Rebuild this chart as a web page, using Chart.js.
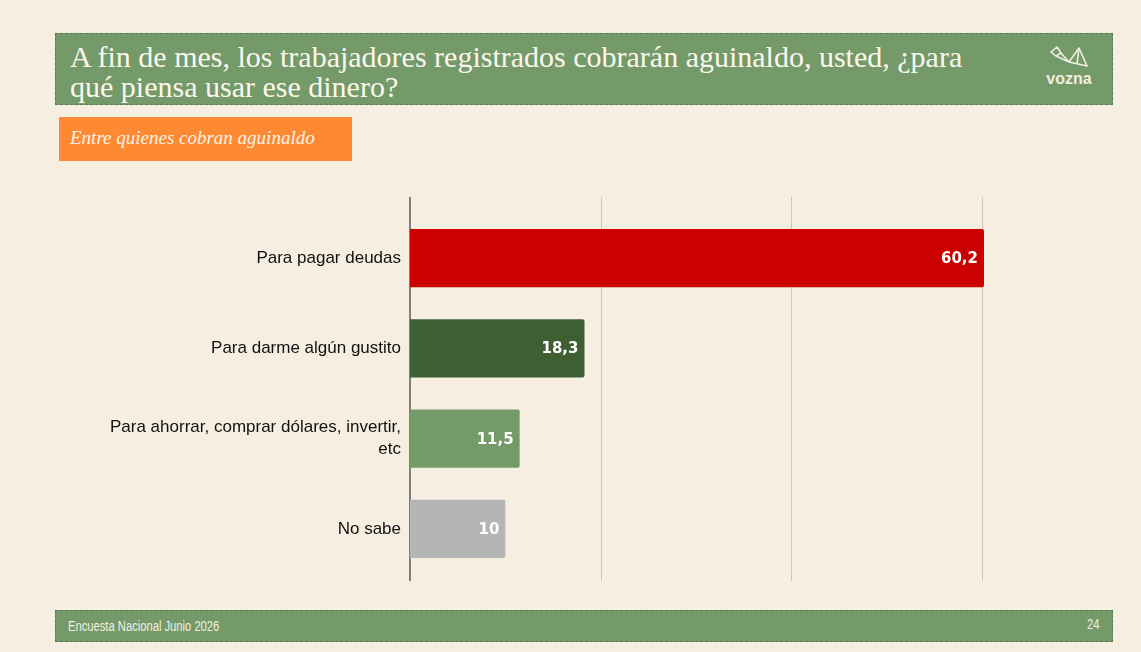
<!DOCTYPE html>
<html lang="es">
<head>
  <meta charset="UTF-8">
  <title>Aguinaldo - uso del dinero</title>
  <script src="https://cdn.jsdelivr.net/npm/chart.js"></script>
  <style>
    body {
      margin: 0;
      width: 1141px;
      height: 652px;
      background: #f6eee1;
      position: relative;
      overflow: hidden;
    }
    .header {
      position: absolute;
      left: 55px; top: 33px;
      width: 1056px; height: 70px;
      background: #759a69;
      border: 1px dashed #5c7d51;
    }
    .header h1 {
      margin: 0;
      position: absolute;
      left: 14px; top: 8px;
      font-family: "Liberation Serif", serif;
      font-weight: normal;
      font-size: 30px;
      line-height: 30px;
      color: #fbf7ee;
    }
    .logo {
      position: absolute;
      right: 16px; top: 10px;
      width: 54px;
      text-align: center;
      color: #f1eee2;
      font-family: "Liberation Sans", Arial, sans-serif;
      font-weight: bold;
      font-size: 16px;
      line-height: 16px;
    }
    .sub {
      position: absolute;
      left: 59px; top: 117px;
      width: 293px; height: 44px;
      background: #fd8a32;
    }
    .sub span {
      position: absolute;
      left: 11px; top: 10px;
      font-family: "Liberation Serif", serif;
      font-style: italic;
      font-size: 19px;
      color: #fdf3e6;
    }
    .footer {
      position: absolute;
      left: 55px; top: 610px;
      width: 1056px; height: 30px;
      background: #759a69;
      border: 1px dashed #5c7d51;
      font-family: "Liberation Sans", Arial, sans-serif;
      font-size: 14px;
      color: #f3efe3;
    }
    .footer .l { position: absolute; left: 12px; top: 7px; transform: scaleX(0.8); transform-origin: left; }
    .footer .r { position: absolute; right: 12px; top: 5px; transform: scaleX(0.8); transform-origin: right; }
    #wrap {
      position: absolute;
      left: 0; top: 190px;
      width: 1000px; height: 400px;
    }
  </style>
</head>
<body>
  <div class="header">
    <h1>A fin de mes, los trabajadores registrados cobrarán aguinaldo, usted, ¿para<br>qué piensa usar ese dinero?</h1>
    <div class="logo">
      <svg width="44" height="24" viewBox="0 0 44 24" fill="none" stroke="#f1eee2" stroke-width="1.6" stroke-linejoin="round">
        <path d="M4 8 L10 3 L14 9 L9 12 Z"/>
        <path d="M14 9 L22 18 L9 12"/>
        <path d="M22 18 L32 4 L40 22 L22 18"/>
        <path d="M32 4 L30 20"/>
      </svg>
      <div>vozna</div>
    </div>
  </div>
  <div class="sub"><span>Entre quienes cobran aguinaldo</span></div>

  <div id="wrap"><canvas id="chart"></canvas></div>

  <div class="footer">
    <span class="l">Encuesta Nacional Junio 2026</span>
    <span class="r">24</span>
  </div>

  <script>
    var categories = [
      'Para pagar deudas',
      'Para darme algún gustito',
      ['Para ahorrar, comprar dólares, invertir,', 'etc'],
      'No sabe'
    ];
    var values = [60.2, 18.3, 11.5, 10];
    var barColors = ['#cc0000', '#3f5f33', '#749a68', '#b5b5b5'];
    var gridValues = [20, 40, 60];

    // grid lines + axis line, drawn a bit taller than the plot area
    var gridPlugin = {
      id: 'gridLines',
      beforeDatasetsDraw: function (chart) {
        var c = chart.ctx, area = chart.chartArea, x = chart.scales.x;
        c.save();
        c.lineWidth = 1;
        c.strokeStyle = '#cfc6b8';
        gridValues.forEach(function (v) {
          var px = Math.round(x.getPixelForValue(v)) + 0.5;
          c.beginPath();
          c.moveTo(px, area.top - 16);
          c.lineTo(px, area.bottom + 7);
          c.stroke();
        });
        c.strokeStyle = '#5a5a5a';
        c.lineWidth = 1.5;
        var x0 = x.getPixelForValue(0);
        c.beginPath();
        c.moveTo(x0, area.top - 16);
        c.lineTo(x0, area.bottom + 7);
        c.stroke();
        c.restore();
      }
    };

    var valuePlugin = {
      id: 'valueLabels',
      afterDatasetsDraw: function (chart) {
        var c = chart.ctx;
        var meta = chart.getDatasetMeta(0);
        c.save();
        c.fillStyle = '#ffffff';
        c.font = 'bold 15px "DejaVu Sans", sans-serif';
        c.textAlign = 'right';
        c.textBaseline = 'middle';
        meta.data.forEach(function (bar, i) {
          c.fillText(String(values[i]).replace('.', ','), bar.x - 6, bar.y + 1);
        });
        c.restore();
      }
    };

    new Chart(document.getElementById('chart'), {
      type: 'bar',
      data: {
        labels: categories,
        datasets: [{
          data: values,
          backgroundColor: barColors,
          borderRadius: 2,
          borderSkipped: 'start',
          barPercentage: 0.645,
          categoryPercentage: 1
        }]
      },
      options: {
        indexAxis: 'y',
        responsive: true,
        maintainAspectRatio: false,
        animation: false,
        layout: { padding: { top: 23, bottom: 16, right: 16, left: 0 } },
        plugins: {
          legend: { display: false },
          tooltip: { enabled: false }
        },
        scales: {
          x: {
            display: false,
            min: 0,
            max: 60.2
          },
          y: {
            afterFit: function (scale) { scale.width = 410; },
            grid: { display: false },
            border: { display: false },
            ticks: {
              color: '#111111',
              padding: 1,
              font: { family: '"Liberation Sans", Arial, sans-serif', size: 17, lineHeight: 1.3 }
            }
          }
        }
      },
      plugins: [gridPlugin, valuePlugin]
    });
  </script>
</body>
</html>
